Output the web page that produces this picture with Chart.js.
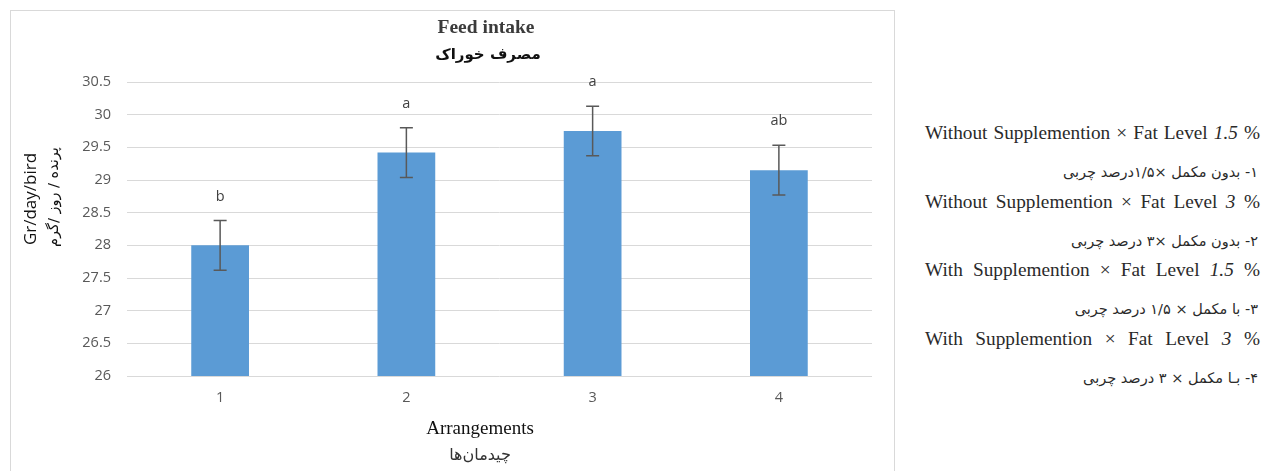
<!DOCTYPE html>
<html>
<head>
<meta charset="utf-8">
<script src="https://cdn.jsdelivr.net/npm/chart.js@4/dist/chart.umd.min.js"></script>
<style>
  html, body { margin: 0; padding: 0; background: #ffffff; }
  body { width: 1265px; height: 471px; overflow: hidden; position: relative; }
  #frame { position: absolute; left: 10px; top: 10px; width: 885px; height: 480px;
           border: 1.5px solid #d9d9d9; box-sizing: border-box; }
  #wrap { position: absolute; left: 0; top: 0; width: 900px; height: 471px; }
  .en { position: absolute; left: 925px; width: 335px; height: 26px; line-height: 26px;
        font-family: "Liberation Serif", "Times New Roman", serif; font-size: 19.3px; color: #2a2a2a;
        text-align: justify; text-align-last: justify; white-space: nowrap; }
  .fa { position: absolute; right: 7px; height: 24px; line-height: 24px;
        font-family: "DejaVu Sans", sans-serif; font-size: 14.5px; color: #2a2a2a;
        direction: rtl; white-space: nowrap; }
</style>
</head>
<body>
<div id="frame"></div>
<div id="wrap"><canvas id="chart" width="900" height="471"></canvas></div>
<div id="notes"></div>
<script>
// Feed intake per arrangement (g/day/bird) with standard error and group letters
const arrangements = ['1', '2', '3', '4'];
const feedIntake = [28.0, 29.42, 29.75, 29.15];
const standardError = [0.38, 0.38, 0.38, 0.38];
const groupLetters = ['b', 'a', 'a', 'ab'];

// Treatment descriptions shown beside the chart
const treatmentNames = [
  'Without Supplemention × Fat Level',
  'Without Supplemention × Fat Level',
  'With Supplemention × Fat Level',
  'With Supplemention × Fat Level'
];
const fatLevels = ['1.5', '3', '1.5', '3'];
const treatmentNamesFa = [
  '۱- بدون مکمل ×۱/۵درصد چربی',
  '۲- بدون مکمل ×۳ درصد چربی',
  '۳- با مکمل × ۱/۵ درصد چربی',
  '۴- بـا مکمل × ۳ درصد چربی'
];

const chartTitle = 'Feed intake';
const chartTitleFa = 'مصرف خوراک';
const yTitle = 'Gr/day/bird';
const yTitleFa = 'پرنده / روز /گرم';
const xTitle = 'Arrangements';
const xTitleFa = 'چیدمان‌ها';

const notes = document.getElementById('notes');
treatmentNames.forEach((name, i) => {
  const en = document.createElement('div');
  en.className = 'en';
  en.style.top = (133 + i * 68.7 - 13) + 'px';
  en.innerHTML = name + ' <i>' + fatLevels[i] + '</i> %';
  notes.appendChild(en);
  const fa = document.createElement('div');
  fa.className = 'fa';
  fa.style.top = (172 + i * 68.7 - 12) + 'px';
  fa.textContent = treatmentNamesFa[i];
  notes.appendChild(fa);
});

const tickFont = { family: '"Open Sans", sans-serif', size: 14.5 };
const tickColor = '#595959';

// Error bars with caps and significance letters above them
const errorBarPlugin = {
  id: 'errorBars',
  afterDatasetsDraw(chart) {
    const { ctx } = chart;
    const y = chart.scales.y;
    const meta = chart.getDatasetMeta(0);
    ctx.save();
    ctx.strokeStyle = '#595959';
    ctx.lineWidth = 1.5;
    meta.data.forEach((bar, i) => {
      const top = y.getPixelForValue(feedIntake[i] + standardError[i]);
      const bottom = y.getPixelForValue(feedIntake[i] - standardError[i]);
      const cap = 6.5;
      ctx.beginPath();
      ctx.moveTo(bar.x, top); ctx.lineTo(bar.x, bottom);
      ctx.moveTo(bar.x - cap, top); ctx.lineTo(bar.x + cap, top);
      ctx.moveTo(bar.x - cap, bottom); ctx.lineTo(bar.x + cap, bottom);
      ctx.stroke();
      ctx.fillStyle = '#404040';
      ctx.font = '14.5px "Open Sans", sans-serif';
      ctx.textAlign = 'center';
      ctx.textBaseline = 'middle';
      ctx.fillText(groupLetters[i], bar.x, top - 24);
    });
    ctx.restore();
  }
};

// Titles for the chart and both axes, in English and Persian
const titlesPlugin = {
  id: 'titles',
  afterDraw(chart) {
    const { ctx } = chart;
    ctx.save();
    ctx.textAlign = 'center';
    ctx.textBaseline = 'middle';

    ctx.fillStyle = '#3b3b3b';
    ctx.font = 'bold 19.5px "Liberation Serif", serif';
    ctx.fillText(chartTitle, 486, 28);
    ctx.fillStyle = '#111111';
    ctx.direction = 'rtl';
    ctx.font = 'bold 15px "DejaVu Sans", sans-serif';
    ctx.fillText(chartTitleFa, 488, 55);

    ctx.direction = 'ltr';
    ctx.fillStyle = '#111111';
    ctx.font = '19px "Liberation Serif", serif';
    ctx.fillText(xTitle, 480, 429);
    ctx.direction = 'rtl';
    ctx.fillStyle = '#333333';
    ctx.font = '16px "DejaVu Sans", sans-serif';
    ctx.fillText(xTitleFa, 480, 456);

    ctx.save();
    ctx.translate(31, 199);
    ctx.rotate(-Math.PI / 2);
    ctx.direction = 'ltr';
    ctx.fillStyle = '#111111';
    ctx.font = '17px "Open Sans", sans-serif';
    ctx.fillText(yTitle, 0, 0);
    ctx.restore();

    ctx.save();
    ctx.translate(54, 197);
    ctx.rotate(-Math.PI / 2);
    ctx.direction = 'rtl';
    ctx.fillStyle = '#111111';
    ctx.font = '14.5px "DejaVu Sans", sans-serif';
    ctx.fillText(yTitleFa, 0, 0);
    ctx.restore();

    ctx.restore();
  }
};

new Chart(document.getElementById('chart'), {
  type: 'bar',
  data: {
    labels: arrangements,
    datasets: [{
      data: feedIntake,
      backgroundColor: '#5b9bd5',
      borderWidth: 0,
      categoryPercentage: 1,
      barPercentage: 0.31
    }]
  },
  options: {
    responsive: false,
    animation: false,
    devicePixelRatio: 1,
    layout: { padding: { left: 0, top: 82, right: 28, bottom: 55 } },
    plugins: { legend: { display: false }, tooltip: { enabled: false }, title: { display: false } },
    scales: {
      x: {
        grid: { display: false, drawTicks: false },
        border: { display: false },
        ticks: { color: tickColor, font: tickFont, padding: 13 },
        afterFit(scale) { scale.height = 40; }
      },
      y: {
        min: 26,
        max: 30.5,
        grid: { color: '#d9d9d9', lineWidth: 1, drawTicks: false },
        border: { display: false },
        ticks: {
          stepSize: 0.5, color: tickColor, font: tickFont, padding: 16,
          callback: (value) => String(Math.round(value * 10) / 10)
        },
        afterFit(scale) { scale.width = 127; }
      }
    }
  },
  plugins: [errorBarPlugin, titlesPlugin]
});
</script>
</body>
</html>
